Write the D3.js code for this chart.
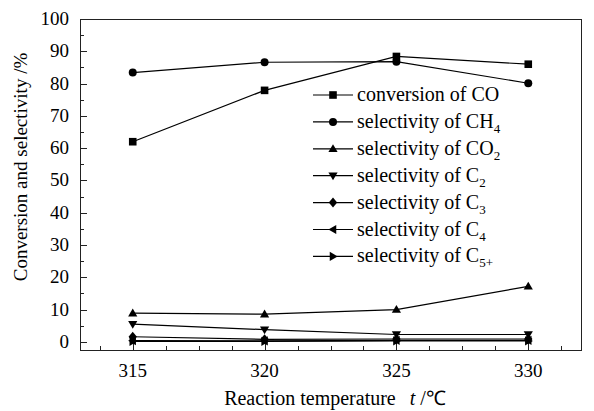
<!DOCTYPE html>
<html>
<head>
<meta charset="utf-8">
<script src="https://cdn.jsdelivr.net/npm/d3@7"></script>
<style>
  body { margin: 0; background: #fff; }
  svg { display: block; }
</style>
</head>
<body>
<svg id="chart" width="594" height="411"></svg>
<script>
// temperatures (°C)
const temps = [315, 320, 325, 330];
// series values (%)
const convCO = [62.0, 77.9, 88.4, 86.0];
const selCH4 = [83.4, 86.6, 86.8, 80.1];
const selCO2 = [8.9, 8.6, 10.0, 17.2];
const selC2 = [5.5, 3.8, 2.3, 2.3];
const selC3 = [1.6, 0.8, 0.9, 0.9];
const selC4 = [0.4, 0.3, 0.5, 0.5];
const selC5 = [0.2, 0.2, 0.3, 0.3];
const legendNames = [
  ['conversion of CO', ''],
  ['selectivity of CH', '4'],
  ['selectivity of CO', '2'],
  ['selectivity of C', '2'],
  ['selectivity of C', '3'],
  ['selectivity of C', '4'],
  ['selectivity of C', '5+']
];
const yTicks = [0, 10, 20, 30, 40, 50, 60, 70, 80, 90, 100];

const series = [
  { values: convCO, symbol: 'square' },
  { values: selCH4, symbol: 'circle' },
  { values: selCO2, symbol: 'up' },
  { values: selC2, symbol: 'down' },
  { values: selC3, symbol: 'diamond' },
  { values: selC4, symbol: 'left' },
  { values: selC5, symbol: 'right' }
];

const FONT = 'Liberation Serif';
const svg = d3.select('#chart');
const pLeft = 80, pRight = 581, pTop = 19, pBottom = 350;

const x = d3.scaleLinear().domain([313, 332]).range([pLeft, pRight]);
const y = d3.scaleLinear().domain([-2.5, 100]).range([pBottom, pTop]);

// frame
svg.append('rect')
  .attr('x', pLeft + 0.5).attr('y', pTop + 0.5)
  .attr('width', pRight - pLeft).attr('height', pBottom - pTop)
  .attr('fill', 'none').attr('stroke', '#222').attr('stroke-width', 1);

// y ticks: major + minor inward
const yMinor = d3.range(5, 100, 10);
svg.append('g').selectAll('line').data(yTicks).join('line')
  .attr('x1', pLeft).attr('x2', pLeft + 7)
  .attr('y1', d => Math.round(y(d)) + 0.5).attr('y2', d => Math.round(y(d)) + 0.5)
  .attr('stroke', '#222');
svg.append('g').selectAll('line').data(yMinor).join('line')
  .attr('x1', pLeft).attr('x2', pLeft + 4)
  .attr('y1', d => Math.round(y(d)) + 0.5).attr('y2', d => Math.round(y(d)) + 0.5)
  .attr('stroke', '#222');
svg.append('g').selectAll('text').data(yTicks).join('text')
  .attr('font-family', FONT)
  .attr('x', pLeft - 11).attr('y', d => y(d) + 6)
  .attr('text-anchor', 'end').attr('font-size', 19)
  .text(d => d);

// x ticks: major + minor inward from bottom
const xMinor = [313.75, 316.25, 317.5, 318.75, 321.25, 322.5, 323.75, 326.25, 327.5, 328.75, 331.25];
svg.append('g').selectAll('line').data(temps).join('line')
  .attr('x1', d => Math.round(x(d)) + 0.5).attr('x2', d => Math.round(x(d)) + 0.5)
  .attr('y1', pBottom).attr('y2', pBottom - 7)
  .attr('stroke', '#222');
svg.append('g').selectAll('line').data(xMinor).join('line')
  .attr('x1', d => Math.round(x(d)) + 0.5).attr('x2', d => Math.round(x(d)) + 0.5)
  .attr('y1', pBottom).attr('y2', pBottom - 4)
  .attr('stroke', '#222');
svg.append('g').selectAll('text').data(temps).join('text')
  .attr('font-family', FONT)
  .attr('x', d => x(d)).attr('y', 377)
  .attr('text-anchor', 'middle').attr('font-size', 19)
  .text(d => d);

// axis titles
svg.append('text')
  .attr('font-family', FONT)
  .attr('transform', 'translate(27,167) rotate(-90)')
  .attr('text-anchor', 'middle').attr('font-size', 19)
  .text('Conversion and selectivity /%');
const xt = svg.append('text')
  .attr('font-family', FONT)
  .attr('x', 335).attr('y', 405)
  .attr('text-anchor', 'middle').attr('font-size', 20);
xt.append('tspan').attr('font-family', FONT).text('Reaction temperature');
xt.append('tspan').attr('font-family', FONT).attr('dx', 14).attr('font-style', 'italic').text('t');
xt.append('tspan').attr('font-family', FONT).text(' /℃');

// marker drawing
function marker(g, sym, cx, cy) {
  const s = 3.8;
  if (sym === 'square') {
    g.append('rect').attr('x', cx - s).attr('y', cy - s).attr('width', 2 * s).attr('height', 2 * s);
  } else if (sym === 'circle') {
    g.append('circle').attr('cx', cx).attr('cy', cy).attr('r', 4);
  } else {
    let pts;
    const t = 4.6;
    if (sym === 'up') pts = [[cx, cy - t], [cx + t, cy + t * 0.7], [cx - t, cy + t * 0.7]];
    if (sym === 'down') pts = [[cx, cy + t], [cx + t, cy - t * 0.7], [cx - t, cy - t * 0.7]];
    if (sym === 'left') pts = [[cx - t, cy], [cx + t * 0.7, cy - t], [cx + t * 0.7, cy + t]];
    if (sym === 'right') pts = [[cx + t, cy], [cx - t * 0.7, cy - t], [cx - t * 0.7, cy + t]];
    if (sym === 'diamond') pts = [[cx, cy - 5], [cx + 4.2, cy], [cx, cy + 5], [cx - 4.2, cy]];
    g.append('polygon').attr('points', pts.map(p => p.join(',')).join(' '));
  }
}

const line = d3.line().x((d, i) => x(temps[i])).y(d => y(d));

series.forEach(s => {
  svg.append('path').datum(s.values)
    .attr('d', line).attr('fill', 'none').attr('stroke', '#000').attr('stroke-width', 1.2);
  const g = svg.append('g').attr('fill', '#000');
  s.values.forEach((v, i) => marker(g, s.symbol, x(temps[i]), y(v)));
});

// legend
const legY0 = 95, legDy = 26.9;
series.forEach((s, i) => {
  const ly = legY0 + i * legDy;
  svg.append('line').attr('x1', 313).attr('x2', 353).attr('y1', ly).attr('y2', ly)
    .attr('stroke', '#000').attr('stroke-width', 1.2);
  const g = svg.append('g').attr('fill', '#000');
  marker(g, s.symbol, 333, ly);
  const t = svg.append('text').attr('font-family', FONT)
    .attr('x', 357).attr('y', ly + 6).attr('font-size', 20);
  t.append('tspan').attr('font-family', FONT).text(legendNames[i][0]);
  if (legendNames[i][1]) {
    t.append('tspan').attr('font-family', FONT).attr('dy', 5).attr('font-size', 13).text(legendNames[i][1]);
  }
});
</script>
</body>
</html>
